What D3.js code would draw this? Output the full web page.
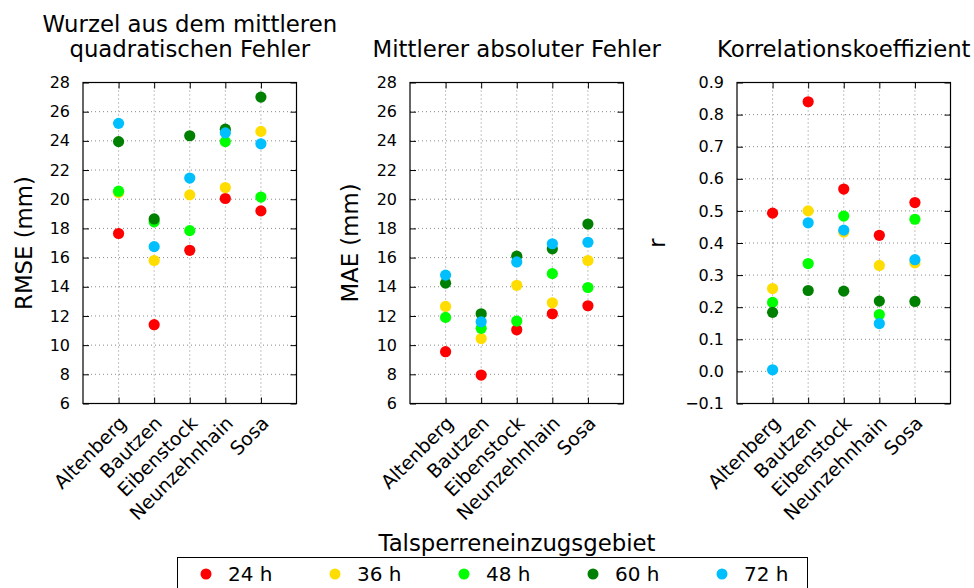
<!DOCTYPE html>
<html>
<head>
<meta charset="utf-8">
<script src="https://cdn.jsdelivr.net/npm/d3@7"></script>
<style>
  html, body { margin: 0; padding: 0; background: #fff; }
  svg { display: block; font-family: "DejaVu Sans", sans-serif; }
</style>
</head>
<body>
<svg id="chart" width="974" height="588"></svg>
<script>
// Catchment areas and forecast lead times
const categories = ["Altenberg", "Bautzen", "Eibenstock", "Neunzehnhain", "Sosa"];
const leadTimes = ["24 h", "36 h", "48 h", "60 h", "72 h"];
const leadColors = ["#ff0000", "#ffdd00", "#00ff00", "#008000", "#00bfff"];

// Root mean square error (mm), one row per lead time
const rmse24 = [17.65, 11.4, 16.5, 20.05, 19.2];
const rmse36 = [20.45, 15.8, 20.3, 20.8, 24.65];
const rmse48 = [20.55, 18.45, 17.85, 23.95, 20.15];
const rmse60 = [23.95, 18.65, 24.35, 24.8, 27.0];
const rmse72 = [25.2, 16.75, 21.45, 24.55, 23.8];

// Mean absolute error (mm)
const mae24 = [9.55, 7.95, 11.05, 12.15, 12.7];
const mae36 = [12.65, 10.45, 14.1, 12.9, 15.8];
const mae48 = [11.9, 11.15, 11.65, 14.9, 13.95];
const mae60 = [14.25, 12.15, 16.1, 16.6, 18.3];
const mae72 = [14.8, 11.6, 15.7, 16.95, 17.05];

// Correlation coefficient
const corr24 = [0.493, 0.840, 0.568, 0.424, 0.526];
const corr36 = [0.258, 0.500, 0.434, 0.330, 0.338];
const corr48 = [0.215, 0.336, 0.484, 0.177, 0.474];
const corr60 = [0.184, 0.252, 0.250, 0.219, 0.218];
const corr72 = [0.005, 0.463, 0.440, 0.149, 0.348];

// Axis ticks
const errorTicks = [6, 8, 10, 12, 14, 16, 18, 20, 22, 24, 26, 28];
const corrTicks = [-0.1, 0.0, 0.1, 0.2, 0.3, 0.4, 0.5, 0.6, 0.7, 0.8, 0.9];

const panels = [
  { title: ["Wurzel aus dem mittleren", "quadratischen Fehler"], ylabel: "RMSE (mm)",
    series: [rmse24, rmse36, rmse48, rmse60, rmse72], domain: [6, 28], ticks: errorTicks,
    fmt: d3.format("d"), left: 83, labelX: 32 },
  { title: ["Mittlerer absoluter Fehler"], ylabel: "MAE (mm)",
    series: [mae24, mae36, mae48, mae60, mae72], domain: [6, 28], ticks: errorTicks,
    fmt: d3.format("d"), left: 410, labelX: 358 },
  { title: ["Korrelationskoeffizient"], ylabel: "r",
    series: [corr24, corr36, corr48, corr60, corr72], domain: [-0.1, 0.9], ticks: corrTicks,
    fmt: d => d3.format(".1f")(d).replace("-", "\u2212"), left: 737, labelX: 665 }
];

const svg = d3.select("#chart");
const plotW = 213.5, plotTop = 82.5, plotBottom = 403.5;
const tickLen = 6;

panels.forEach(p => {
  const x = d3.scaleLinear().domain([0, categories.length + 1]).range([p.left, p.left + plotW]);
  const y = d3.scaleLinear().domain(p.domain).range([plotBottom, plotTop]);
  const g = svg.append("g");
  const xPos = categories.map((c, i) => i + 1);

  // dotted grid
  g.append("g").selectAll("line").data(p.ticks).join("line")
    .attr("x1", x.range()[0]).attr("x2", x.range()[1])
    .attr("y1", d => y(d)).attr("y2", d => y(d))
    .attr("stroke", "#8a8a8a").attr("stroke-width", 1).attr("stroke-dasharray", "1,3");
  g.append("g").selectAll("line").data(xPos).join("line")
    .attr("x1", d => x(d)).attr("x2", d => x(d))
    .attr("y1", plotTop).attr("y2", plotBottom)
    .attr("stroke", "#8a8a8a").attr("stroke-width", 1).attr("stroke-dasharray", "1,3");

  // inward ticks on all four sides
  const axL = d3.axisLeft(y).tickValues(p.ticks).tickSize(-tickLen).tickPadding(13).tickFormat(p.fmt);
  const axR = d3.axisRight(y).tickValues(p.ticks).tickSize(-tickLen).tickFormat("");
  const axB = d3.axisBottom(x).tickValues(xPos).tickSize(-tickLen).tickFormat("");
  const axT = d3.axisTop(x).tickValues(xPos).tickSize(-tickLen).tickFormat("");

  const gl = g.append("g").attr("transform", `translate(${p.left},0)`).call(axL);
  g.append("g").attr("transform", `translate(${p.left + plotW},0)`).call(axR);
  g.append("g").attr("transform", `translate(0,${plotBottom})`).call(axB);
  g.append("g").attr("transform", `translate(0,${plotTop})`).call(axT);
  g.selectAll(".domain").remove();
  g.selectAll(".tick line").attr("stroke", "#000").attr("stroke-width", 1);
  gl.selectAll(".tick text").attr("font-size", 16).attr("fill", "#000")
    .attr("font-family", "DejaVu Sans");

  // frame
  g.append("rect").attr("x", p.left).attr("y", plotTop).attr("width", plotW).attr("height", plotBottom - plotTop)
    .attr("fill", "none").attr("stroke", "#000").attr("stroke-width", 1.2);

  // rotated category labels
  g.append("g").selectAll("text").data(categories).join("text")
    .attr("transform", (d, i) => `translate(${x(i + 1) + 9},${plotBottom + 21}) rotate(-45)`)
    .attr("text-anchor", "end").attr("font-size", 19).attr("fill", "#000")
    .text(d => d);

  // points: one series per lead time, later lead times drawn on top
  p.series.forEach((vals, s) => {
    g.append("g").selectAll("circle").data(vals).join("circle")
      .attr("cx", (d, i) => x(i + 1)).attr("cy", d => y(d)).attr("r", 5.6)
      .attr("fill", leadColors[s]);
  });

  // title
  const cx = p.left + plotW / 2;
  const titleBase = p.title.length === 2 ? [32, 57] : [57];
  p.title.forEach((line, k) => {
    svg.append("text").attr("x", cx).attr("y", titleBase[k]).attr("text-anchor", "middle")
      .attr("font-size", 22.8).attr("fill", "#000").text(line);
  });

  // y label
  svg.append("text")
    .attr("transform", `translate(${p.labelX},${(plotTop + plotBottom) / 2}) rotate(-90)`)
    .attr("text-anchor", "middle")
    .attr("font-size", 22.8).attr("fill", "#000").text(p.ylabel);
});

// legend
svg.append("text").attr("x", 517).attr("y", 551).attr("text-anchor", "middle")
  .attr("font-size", 22.8).attr("fill", "#000").text("Talsperreneinzugsgebiet");
svg.append("rect").attr("x", 177.5).attr("y", 557.5).attr("width", 630).attr("height", 60)
  .attr("fill", "#fff").attr("stroke", "#000").attr("stroke-width", 1);
const legendX = d3.scalePoint().domain(leadTimes).range([206, 722]);
const lg = svg.append("g").selectAll("g").data(leadTimes).join("g")
  .attr("transform", d => `translate(${legendX(d)},574)`);
lg.append("circle").attr("r", 5.5).attr("fill", (d, i) => leadColors[i]);
lg.append("text").attr("x", 22).attr("y", 7)
  .attr("font-size", 20).attr("fill", "#000").text(d => d);
</script>
</body>
</html>
